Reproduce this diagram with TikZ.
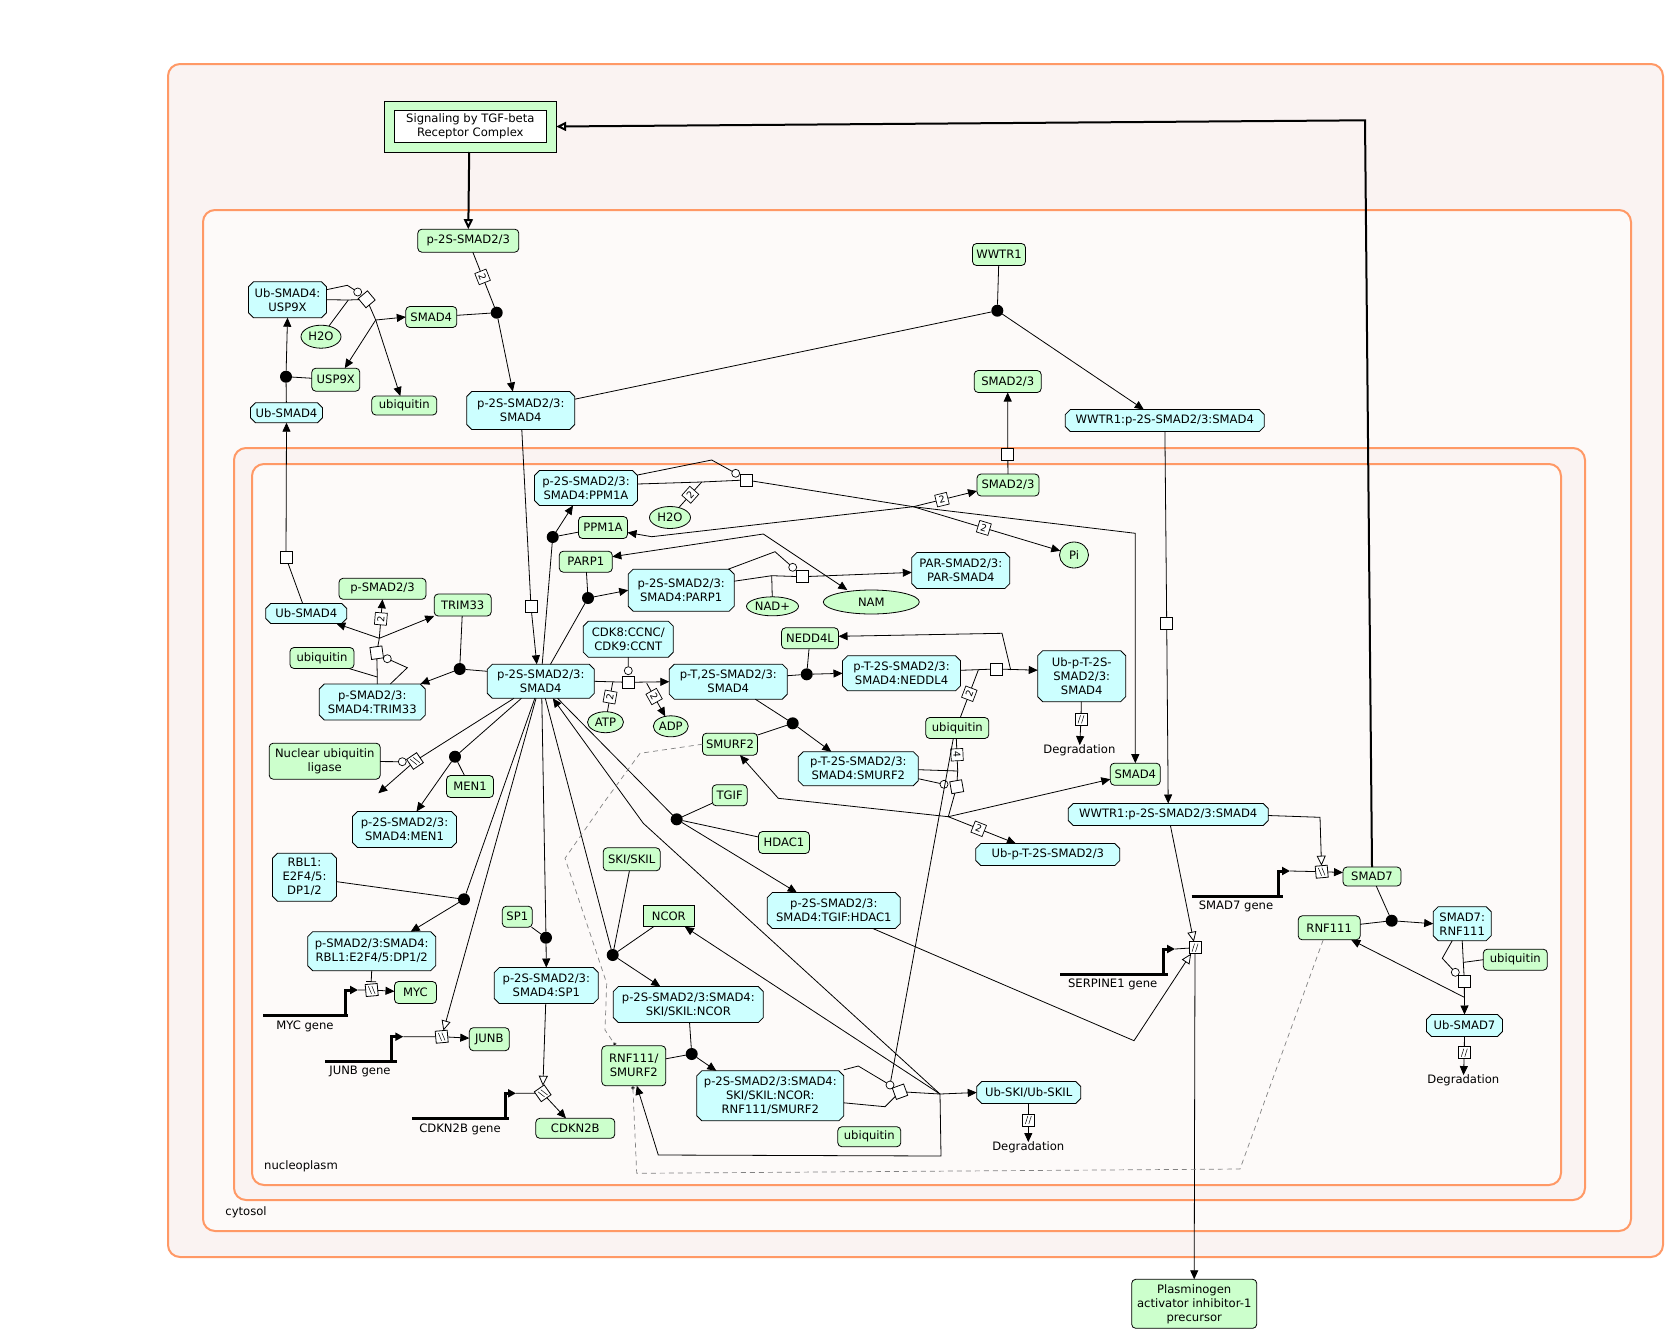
\documentclass[tikz,border=0pt]{standalone}
\usepackage{fontspec}
\setmainfont{DejaVu Sans}
\usetikzlibrary{shapes.misc,shapes.geometric,arrows.meta}
\definecolor{protfill}{RGB}{204,255,204}
\definecolor{cplxfill}{RGB}{204,255,255}
\definecolor{compline}{RGB}{255,153,102}
\definecolor{pinkfill}{RGB}{250,243,242}
\definecolor{palefill}{RGB}{253,250,249}
\definecolor{setgray}{RGB}{130,130,130}
\newcommand\dfont{\fontsize{11.6}{14}\selectfont}
\begin{document}
\begin{tikzpicture}[x=1pt,y=-1pt,line width=0.8pt,
  >={Triangle[length=9pt,width=8pt]},
  every node/.style={font=\dfont, inner sep=0pt, outer sep=0pt, align=center},
  sz/.style n args={2}{minimum width=#1pt, minimum height=#2pt},
  prot/.style={draw, line width=0.8pt, fill=protfill, rounded corners=4pt},
  sharp/.style={draw, line width=0.8pt, fill=protfill},
  cplx/.style={draw, line width=0.8pt, fill=cplxfill, chamfered rectangle,
    chamfered rectangle xsep=2.5pt, chamfered rectangle ysep=2.5pt},
  chem/.style={draw, line width=0.8pt, fill=protfill, ellipse},
  dot/.style={circle, fill=black, minimum size=12pt},
  cat/.style={circle, draw, fill=white, minimum size=8pt, line width=0.7pt},
  proc/.style={draw, fill=white, minimum size=12pt, line width=0.8pt},
  stoich/.style={draw, fill=white, minimum size=12pt, line width=0.7pt,
    font=\fontsize{9.5}{9.5}\selectfont},
  tbox/.style={proc, path picture={
    \draw[line width=0.5pt] ([xshift=-3pt,yshift=4pt]path picture bounding box.center) -- ++(2.5pt,-8pt);
    \draw[line width=0.5pt] ([xshift=0.5pt,yshift=4pt]path picture bounding box.center) -- ++(2.5pt,-8pt);}},
  dbox/.style={proc, path picture={
    \draw[line width=0.5pt] ([xshift=-3pt,yshift=-4pt]path picture bounding box.center) -- ++(2.5pt,8pt);
    \draw[line width=0.5pt] ([xshift=0.5pt,yshift=-4pt]path picture bounding box.center) -- ++(2.5pt,8pt);}},
  comp/.style={draw=compline, line width=2pt, rounded corners=12pt},
  thickline/.style={line width=2pt},
  openarr/.style={-{Triangle[open,length=10pt,width=9pt,fill=white]}},
  gene/.style={line width=3pt},
  setline/.style={draw=setgray, dashed, line width=0.7pt, dash pattern=on 5pt off 4pt}
]
\useasboundingbox (0,0) rectangle (1670,1336);

% compartments
\draw[comp, fill=pinkfill] (168,64) rectangle (1663,1257);
\draw[comp, fill=palefill] (203,210) rectangle (1631,1231);
\draw[comp, fill=pinkfill] (234,448) rectangle (1585,1200);
\draw[comp, fill=palefill] (252,464) rectangle (1561,1185);
\node (lblcyt) at (246,1212) {cytosol};
\node (lblnuc) at (301,1166) {nucleoplasm};

% pathway box
\node[draw, line width=1pt, fill=protfill, sz={172}{51}] (sig) at (470.2,126.5) {};
\node[draw, fill=white, sz={152}{31.6}] (sigin) at (470.3,126.5) {Signaling by TGF-beta\\Receptor Complex};

% proteins
\node[prot,sz={101}{23}] (pS23c) at (468.3,240.7) {p-2S-SMAD2/3};
\node[prot,sz={51}{21}] (smad4c) at (431.3,317) {SMAD4};
\node[prot,sz={48}{23}] (usp9x) at (335.8,379.7) {USP9X};
\node[prot,sz={65}{19}] (ubqA) at (404.3,405.5) {ubiquitin};
\node[prot,sz={53}{22}] (wwtr1) at (999,254.5) {WWTR1};
\node[prot,sz={67}{22}] (smad23c) at (1007.7,381.5) {SMAD2/3};
\node[prot,sz={62}{22}] (smad23n) at (1008,485) {SMAD2/3};
\node[prot,sz={49}{22}] (ppm1a) at (603,527.5) {PPM1A};
\node[prot,sz={53}{21}] (parp1) at (585.8,561.7) {PARP1};
\node[prot,sz={87}{21}] (pS23n) at (382.5,588.8) {p-SMAD2/3};
\node[prot,sz={57}{22}] (trim33) at (462.7,605) {TRIM33};
\node[prot,sz={64}{21}] (ubqB) at (322,658) {ubiquitin};
\node[prot,sz={57}{21}] (nedd4l) at (810,638.3) {NEDD4L};
\node[prot,sz={55}{22}] (smurf2) at (730,744.2) {SMURF2};
\node[prot,sz={63}{21}] (ubqC) at (957.3,728) {ubiquitin};
\node[prot,sz={35}{21}] (tgif) at (729.7,795.3) {TGIF};
\node[prot,sz={51}{22}] (hdac1) at (784,842.5) {HDAC1};
\node[prot,sz={50}{22}] (smad4n) at (1135.3,774.2) {SMAD4};
\node[prot,sz={57}{23}] (skiskil) at (631.7,859.3) {SKI/SKIL};
\node[sharp,sz={51}{21}] (ncor) at (668.8,916.2) {NCOR};
\node[prot,sz={64}{40}] (rnfsmurf) at (633.8,1065.8) {RNF111/\\SMURF2};
\node[prot,sz={63}{20}] (ubqD) at (869.3,1136.7) {ubiquitin};
\node[prot,sz={111}{36}] (nul) at (324.7,761.2) {Nuclear ubiquitin\\ligase};
\node[prot,sz={47}{22}] (men1) at (470,786.5) {MEN1};
\node[prot,sz={42}{22}] (myc) at (415.5,992.5) {MYC};
\node[prot,sz={40}{23}] (junb) at (489.3,1039.2) {JUNB};
\node[prot,sz={30}{21}] (sp1) at (517.3,916.7) {SP1};
\node[prot,sz={79}{20}] (cdkn2b) at (575.3,1128.3) {CDKN2B};
\node[prot,sz={58}{19}] (smad7) at (1372,876.5) {SMAD7};
\node[prot,sz={62}{24}] (rnf111) at (1329.2,927.8) {RNF111};
\node[prot,sz={64}{21}] (ubqE) at (1515.3,959.7) {ubiquitin};
\node[prot,sz={125}{49}] (pai1) at (1194.2,1303.8) {Plasminogen\\activator inhibitor-1\\precursor};

% complexes
\node[cplx,sz={78}{36}] (UbS4USP) at (287.5,299.7) {Ub-SMAD4:\\USP9X};
\node[cplx,sz={72}{20}] (ubs4c) at (286.5,412.7) {Ub-SMAD4};
\node[cplx,sz={108}{38}] (pSS4c) at (520.8,410.5) {p-2S-SMAD2/3:\\SMAD4};
\node[cplx,sz={199}{22}] (wwc) at (1164.8,420.5) {WWTR1:p-2S-SMAD2/3:SMAD4};
\node[cplx,sz={103}{35}] (ppm1aC) at (586,488) {p-2S-SMAD2/3:\\SMAD4:PPM1A};
\node[cplx,sz={106}{42}] (parpC) at (681.2,590.2) {p-2S-SMAD2/3:\\SMAD4:PARP1};
\node[cplx,sz={98}{36}] (parS) at (960.8,570.5) {PAR-SMAD2/3:\\PAR-SMAD4};
\node[cplx,sz={81}{20}] (ubs4n) at (306.3,613.5) {Ub-SMAD4};
\node[cplx,sz={106}{36}] (trimC) at (372.3,702) {p-SMAD2/3:\\SMAD4:TRIM33};
\node[cplx,sz={107}{34}] (cen) at (540.8,681.3) {p-2S-SMAD2/3:\\SMAD4};
\node[cplx,sz={90}{36}] (cdk) at (628.3,639.2) {CDK8:CCNC/\\CDK9:CCNT};
\node[cplx,sz={118}{35}] (ptC) at (728.3,681.7) {p-T,2S-SMAD2/3:\\SMAD4};
\node[cplx,sz={118}{35}] (neddC) at (901.5,673.3) {p-T-2S-SMAD2/3:\\SMAD4:NEDDL4};
\node[cplx,sz={88}{51}] (ubC) at (1081.7,676.2) {Ub-p-T-2S-\\SMAD2/3:\\SMAD4};
\node[cplx,sz={120}{34}] (smurfC) at (858.3,768.7) {p-T-2S-SMAD2/3:\\SMAD4:SMURF2};
\node[cplx,sz={144}{22}] (ubpt) at (1047.8,854.5) {Ub-p-T-2S-SMAD2/3};
\node[cplx,sz={200}{22}] (wwn) at (1168.2,814.5) {WWTR1:p-2S-SMAD2/3:SMAD4};
\node[cplx,sz={133}{36}] (tgifC) at (833.8,910.5) {p-2S-SMAD2/3:\\SMAD4:TGIF:HDAC1};
\node[cplx,sz={150}{36}] (skiC) at (688.3,1004.5) {p-2S-SMAD2/3:SMAD4:\\SKI/SKIL:NCOR};
\node[cplx,sz={147}{50}] (skiC2) at (770.3,1095.8) {p-2S-SMAD2/3:SMAD4:\\SKI/SKIL:NCOR:\\RNF111/SMURF2};
\node[cplx,sz={104}{22}] (ubski) at (1028.7,1092.5) {Ub-SKI/Ub-SKIL};
\node[cplx,sz={104}{36}] (menC) at (404.5,829.5) {p-2S-SMAD2/3:\\SMAD4:MEN1};
\node[cplx,sz={64}{48}] (rbl) at (304.5,877.2) {RBL1:\\E2F4/5:\\DP1/2};
\node[cplx,sz={128}{39}] (rblC) at (371.7,951.2) {p-SMAD2/3:SMAD4:\\RBL1:E2F4/5:DP1/2};
\node[cplx,sz={104}{36}] (sp1C) at (546.3,985.5) {p-2S-SMAD2/3:\\SMAD4:SP1};
\node[cplx,sz={58}{34}] (smad7C) at (1462.2,923.7) {SMAD7:\\RNF111};
\node[cplx,sz={76}{22}] (ubsmad7) at (1464.5,1025.5) {Ub-SMAD7};

% small molecules
\node[chem,sz={40}{23}] (h2oA) at (321,336.7) {H2O};
\node[chem,sz={41}{22}] (h2oB) at (670,517.5) {H2O};
\node[chem,sz={29}{26}] (pi) at (1074,555) {Pi};
\node[chem,sz={52}{19}] (nad) at (772.5,606.3) {NAD+};
\node[chem,sz={96}{24}] (nam) at (871.3,602) {NAM};
\node[chem,sz={36}{21}] (atp) at (605.5,722.2) {ATP};
\node[chem,sz={35}{21}] (adp) at (670.8,726.3) {ADP};

% association points
\node[dot] (dA) at (496.7,312.7) {};
\node[dot] (dUSP) at (286,376.7) {};
\node[dot] (dW) at (997.3,310.7) {};
\node[dot] (dPPM) at (552.7,537) {};
\node[dot] (dPARP) at (588,598) {};
\node[dot] (dTRIM) at (459.7,669) {};
\node[dot] (dMEN) at (455,756.7) {};
\node[dot] (dNED) at (806.7,674.3) {};
\node[dot] (dSMU) at (792.7,723.3) {};
\node[dot] (dTGIF) at (676.7,819.3) {};
\node[dot] (dRBL) at (464,899.3) {};
\node[dot] (dSP1) at (546,937.7) {};
\node[dot] (dSKI) at (612.7,955) {};
\node[dot] (dRNF) at (691.7,1054) {};
\node[dot] (dSM7) at (1391.7,920.7) {};

% catalysis markers
\node[cat] (cUSP) at (357.7,292) {};
\node[cat] (cTRIM) at (387.3,658.7) {};
\node[cat] (cNUL) at (402.3,761.7) {};
\node[cat] (cPPM) at (735.7,473.3) {};
\node[cat] (cPARP) at (792.7,567.3) {};
\node[cat] (cCDK) at (628.3,670.7) {};
\node[cat] (cSMU) at (944,784.3) {};
\node[cat] (cSKI) at (890,1085) {};
\node[cat] (cSM7) at (1455.3,972.3) {};

% reaction nodes
\node[proc,rotate=40] (rUSP) at (366.7,299.3) {};
\node[proc,rotate=8] (rTRIM) at (376.7,652.7) {};
\node[tbox,rotate=34] (rNUL) at (415,761) {};
\node[proc] (rPPM) at (746,480) {};
\node[proc] (rPARP) at (802.3,576.7) {};
\node[proc] (rCDK) at (628.3,682.3) {};
\node[proc] (rNED) at (996,669) {};
\node[proc,rotate=10] (rSMU) at (956.7,786.7) {};
\node[proc,rotate=20] (rSKI) at (900,1091.7) {};
\node[proc] (rSM7) at (1464.3,981) {};
\node[proc] (tS4) at (286,557.7) {};
\node[proc] (tP) at (531,606.7) {};
\node[proc] (tS23) at (1007.8,454.3) {};
\node[proc] (tWW) at (1166.7,623.3) {};
\node[tbox,rotate=5] (bMYC) at (371.7,990) {};
\node[tbox,rotate=5] (bJUNB) at (441.7,1036.7) {};
\node[tbox,rotate=35] (bCDK) at (542.7,1093.3) {};
\node[tbox,rotate=5] (bSM7) at (1321.7,871.7) {};
\node[dbox] (bSERP) at (1195,947.7) {};
\node[dbox] (dgUb) at (1081,719.3) {};
\node[dbox] (dgSKI) at (1028.3,1120) {};
\node[dbox] (dgSM7) at (1464.3,1052.7) {};

\node (degr1) at (1079.4,750.7) {Degradation};
\node (degr2) at (1028.3,1147.7) {Degradation};
\node (degr3) at (1463.3,1080.7) {Degradation};

% junctions
\coordinate (jUSP) at (348.3,300);
\coordinate (bUSP) at (375.7,320);
\coordinate (jTRIM) at (377.3,677);
\coordinate (bTRIM) at (379.3,638.3);
\coordinate (jPPM) at (701.7,482);
\coordinate (bPPM) at (913.3,506.7);
\coordinate (jPARP) at (771.7,575.7);
\coordinate (bPARP) at (763.3,534);
\coordinate (jATP) at (612.7,682.3);
\coordinate (jADP) at (646.7,683.3);
\coordinate (jNED) at (978.3,670);
\coordinate (jNED2) at (1010.7,670);
\coordinate (jSMU) at (957.7,771);
\coordinate (bSMU) at (948.3,816.7);
\coordinate (bSKI) at (940,1094);
\coordinate (jSM7) at (1464,962.3);
\coordinate (jSM7b) at (1464.3,997.3);
\coordinate (nulEnd) at (378.3,793.3);

% ---------- cytosol ----------
\draw[thickline, openarr] ([xshift=-1pt]sig.south) -- (pS23c.north);
\draw (pS23c) -- node[stoich,sloped,pos=0.45]{2} (dA);
\draw (smad4c) -- (dA);
\draw[->] (dA) -- ([xshift=-8pt]pSS4c.north);
\draw (UbS4USP.east) -- (jUSP) -- (rUSP);
\draw ([yshift=10pt]UbS4USP.east) -- (347.3,285.3) -- (cUSP);
\draw (h2oA) -- (jUSP);
\draw (rUSP) -- (bUSP);
\draw[->] (bUSP) -- (smad4c.west);
\draw[->] (bUSP) -- ([xshift=9pt]usp9x.north);
\draw[->] (bUSP) -- ([xshift=-4pt]ubqA.north);
\draw (ubs4c) -- (dUSP);
\draw (usp9x) -- (dUSP);
\draw[->] (dUSP) -- (UbS4USP.south);
\draw (ubs4n) -- (tS4);
\draw[->] (tS4) -- (ubs4c.south);
\draw (pSS4c) -- (tP);
\draw[->] (tP) -- ([xshift=-4pt]cen.north);
\draw (pSS4c) -- (dW);
\draw (wwtr1) -- (dW);
\draw[->] (dW) -- ([xshift=-21pt]wwc.north);
\draw (wwc) -- (tWW);
\draw[->] (tWW) -- (wwn.north);
\draw (smad23n) -- (tS23);
\draw[->] (tS23) -- (smad23c.south);
\draw[thickline, openarr] (smad7.north) -- (1365,120.3) -- (sig.east);

% ---------- TRIM33 ----------
\draw ([yshift=10pt]cen.west) -- (dTRIM);
\draw (trim33) -- (dTRIM);
\draw[->] (dTRIM) -- ([xshift=48pt]trimC.north);
\draw ([xshift=5pt]trimC.north) -- (jTRIM) -- (rTRIM);
\draw ([xshift=27pt]ubqB.south) -- (jTRIM);
\draw ([xshift=18pt]trimC.north) -- (407.3,667.7) -- (cTRIM);
\draw (rTRIM) -- (bTRIM);
\draw[->] (bTRIM) -- ([xshift=30pt]ubs4n.south);
\draw[->] (bTRIM) -- (trim33.south west);
\draw[->] (bTRIM) -- node[stoich,sloped]{2} (pS23n.south);

% ---------- PPM1A ----------
\draw (cen) -- (dPPM);
\draw (ppm1a) -- (dPPM);
\draw[->] (dPPM) -- ([xshift=-13pt]ppm1aC.south);
\draw ([yshift=4pt]ppm1aC.east) -- (jPPM) -- (rPPM);
\draw ([yshift=13pt]ppm1aC.east) -- (711.7,460) -- (cPPM);
\draw (h2oB) -- node[stoich,sloped,pos=0.5]{2} (jPPM);
\draw (rPPM) -- (bPPM);
\draw[->] (bPPM) -- node[stoich,sloped,pos=0.45]{2} ([yshift=-6pt]smad23n.west);
\draw[->] (bPPM) -- node[stoich,sloped,pos=0.48]{2} (pi);
\draw[->] (bPPM) -- (1135.3,533.3) -- (smad4n.north);
\draw[->] (bPPM) -- (651.7,536.7) -- ([yshift=-5pt]ppm1a.east);

% ---------- PARP1 ----------
\draw (cen) -- (dPARP);
\draw (parp1) -- (dPARP);
\draw[->] (dPARP) -- (parpC.west);
\draw ([yshift=9pt]parpC.east) -- (jPARP) -- (rPARP);
\draw (nad) -- (jPARP);
\draw ([xshift=47pt]parpC.north) -- (775,551.7) -- (cPARP);
\draw[->] (rPARP) -- (parS);
\draw[->] (bPARP) -- ([yshift=5pt]parp1.east);
\draw[->] (bPARP) -- ([xshift=-24pt]nam.north);

% ---------- CDK8/CDK9 ----------
\draw (cen.east) -- (rCDK);
\draw (cdk) -- (cCDK);
\draw (atp) -- node[stoich,sloped]{2} (jATP);
\draw[->] (rCDK) -- (ptC.west);
\draw[->] (jADP) -- node[stoich,sloped,pos=0.4]{2} (adp);

% ---------- NEDD4L ----------
\draw ([yshift=6pt]ptC.east) -- (dNED);
\draw (nedd4l) -- (dNED);
\draw[->] (dNED) -- (neddC.west);
\draw ([yshift=3pt]neddC.east) -- (rNED);
\draw ([xshift=3pt]ubqC.north) -- node[stoich,sloped]{2} (jNED);
\draw[->] (rNED) -- ([yshift=6pt]ubC.west);
\draw[->] (jNED2) -- (1002,633.3) -- ([yshift=2pt]nedd4l.east);
\draw (ubC) -- (dgUb);
\draw[->] (dgUb) -- (degr1);

% ---------- SMURF2 ----------
\draw ([xshift=27pt]ptC.south) -- (dSMU);
\draw (smurf2) -- (dSMU);
\draw[->] (dSMU) -- ([xshift=-27pt]smurfC.north);
\draw ([yshift=-1pt]smurfC.east) -- (jSMU) -- (rSMU);
\draw ([yshift=-10pt]smurfC.east) -- (cSMU);
\draw ([xshift=-1pt]ubqC.south) -- node[stoich,sloped]{4} (jSMU);
\draw (rSMU) -- (bSMU);
\draw[->] (bSMU) -- (778.3,798.3) -- ([xshift=10pt]smurf2.south);
\draw[->] (bSMU) -- node[stoich,sloped,pos=0.45]{2} ([xshift=-32pt]ubpt.north);
\draw[->] (bSMU) -- ([yshift=-5pt]smad4n.west);
\draw ([xshift=-4pt]ubqC.south) -- (cSKI);

% ---------- SKI/SKIL ----------
\draw (cen) -- (dSKI);
\draw (skiskil) -- (dSKI);
\draw (ncor) -- (dSKI);
\draw[->] (dSKI) -- ([xshift=-28pt]skiC.north);
\draw (skiC) -- (dRNF);
\draw ([yshift=7pt]rnfsmurf.east) -- (dRNF);
\draw[->] (dRNF) -- ([xshift=-54pt]skiC2.north);
\draw ([yshift=-7pt]skiC2.east) -- (885,1106.7) -- (rSKI);
\draw ([yshift=26pt]skiC2.east) -- (858.3,1066) -- (cSKI);
\draw (rSKI) -- (bSKI);
\draw[->] (bSKI) -- (ubski.west);
\draw[->] (bSKI) -- (941,1156) -- (658.3,1155) -- ([xshift=3pt]rnfsmurf.south);
\draw[->] (bSKI) -- ([xshift=16pt]ncor.south);
\draw[->] (bSKI) -- (643.3,823.3) -- ([xshift=12pt]cen.south);
\draw (ubski) -- (dgSKI);
\draw[->] (dgSKI) -- (degr2);

% ---------- TGIF ----------
\draw (cen) -- (dTGIF);
\draw (tgif) -- (dTGIF);
\draw (hdac1) -- (dTGIF);
\draw[->] (dTGIF) -- ([xshift=-37pt]tgifC.north);
\draw[openarr] ([xshift=39pt]tgifC.south) -- (1134,1040.7) -- (bSERP);

% ---------- MEN1, ubiquitin ligase, RBL1, JUNB, SP1 ----------
\draw (cen) -- (rNUL);
\draw[->] (rNUL) -- (nulEnd);
\draw (nul) -- (cNUL);
\draw (cen) -- (dMEN);
\draw (men1) -- (dMEN);
\draw[->] (dMEN) -- ([xshift=12pt]menC.north);
\draw (cen) -- (dRBL);
\draw (rbl) -- (dRBL);
\draw[->] (dRBL) -- ([xshift=39pt]rblC.north);
\draw[-{Bar[width=10pt]}] (rblC.south) -- ([yshift=2pt]bMYC.north);
\draw[openarr] (cen) -- (bJUNB);
\draw ([xshift=1pt]cen.south) -- (dSP1);
\draw (sp1) -- (dSP1);
\draw[->] (dSP1) -- (sp1C.north);
\draw[openarr] (sp1C) -- (bCDK);

% ---------- genes ----------
\coordinate (gMYC) at (358,990);
\draw[gene] (263.3,1015) -- (348.3,1015);
\draw[gene, -{Triangle[length=8pt,width=8pt]}] (345,1016.5) -- (345,990) -- (gMYC);
\draw (gMYC) -- (bMYC);
\draw[->] (bMYC) -- (myc);
\node (lmyc) at (305,1026) {MYC gene};

\coordinate (gJUNB) at (403.3,1036.7);
\draw[gene] (325,1061) -- (396.7,1061);
\draw[gene, -{Triangle[length=8pt,width=8pt]}] (391.7,1062.5) -- (391.7,1036.7) -- (gJUNB);
\draw (gJUNB) -- (bJUNB);
\draw[->] (bJUNB) -- (junb);
\node (ljunb) at (360,1071.7) {JUNB gene};

\coordinate (gCDK) at (516,1093.3);
\draw[gene] (412.3,1118.3) -- (509.3,1118.3);
\draw[gene, -{Triangle[length=8pt,width=8pt]}] (505,1119.8) -- (505,1093.3) -- (gCDK);
\draw (gCDK) -- (bCDK);
\draw[->] (bCDK) -- (cdkn2b);
\node (lcdk) at (460,1129) {CDKN2B gene};

\coordinate (gSM7) at (1290,871);
\draw[gene] (1191.7,896.7) -- (1283.3,896.7);
\draw[gene, -{Triangle[length=8pt,width=8pt]}] (1278.3,898.2) -- (1278.3,871) -- (gSM7);
\draw (gSM7) -- (bSM7);
\draw[->] (bSM7) -- ([yshift=4pt]smad7.west);
\node (lsm7) at (1236,906.7) {SMAD7 gene};

\coordinate (gSERP) at (1175,949);
\draw[gene] (1060,974) -- (1168.3,974);
\draw[gene, -{Triangle[length=8pt,width=8pt]}] (1163.3,975.5) -- (1163.3,949) -- (gSERP);
\draw (gSERP) -- (bSERP);
\draw[->] (bSERP) -- (pai1.north);
\node (lserp) at (1112.7,984.3) {SERPINE1 gene};

\draw[openarr] ([yshift=-1pt]wwn.east) -- (1320,817.3) -- (bSM7);
\draw[openarr] (wwn) -- (bSERP);

% ---------- SMAD7 ----------
\draw (smad7) -- (dSM7);
\draw (rnf111) -- (dSM7);
\draw[->] (dSM7) -- (smad7C.west);
\draw (smad7C.south) -- (rSM7);
\draw ([xshift=-10pt]smad7C.south) -- (1442.3,958.3) -- (cSM7);
\draw (ubqE.west) -- (jSM7);
\draw[->] (rSM7) -- (ubsmad7.north);
\draw[->] (jSM7b) -- ([xshift=22pt]rnf111.south);
\draw (ubsmad7) -- (dgSM7);
\draw[->] (dgSM7) -- (degr3);

% ---------- set membership ----------
\draw[setline, -{Circle[length=4pt,fill=black]}] ([xshift=-6pt]rnf111.south) -- (1240,1169) -- (636.7,1173.3) -- ([xshift=-1pt]rnfsmurf.south);
\draw[setline, -{Circle[length=4pt,fill=black]}] (smurf2.west) -- (640,753.3) -- (603.3,803.3) -- (565,858.3) -- (606.7,983.3) -- (605,1030) -- ([xshift=-18pt]rnfsmurf.north);
\end{tikzpicture}
\end{document}
